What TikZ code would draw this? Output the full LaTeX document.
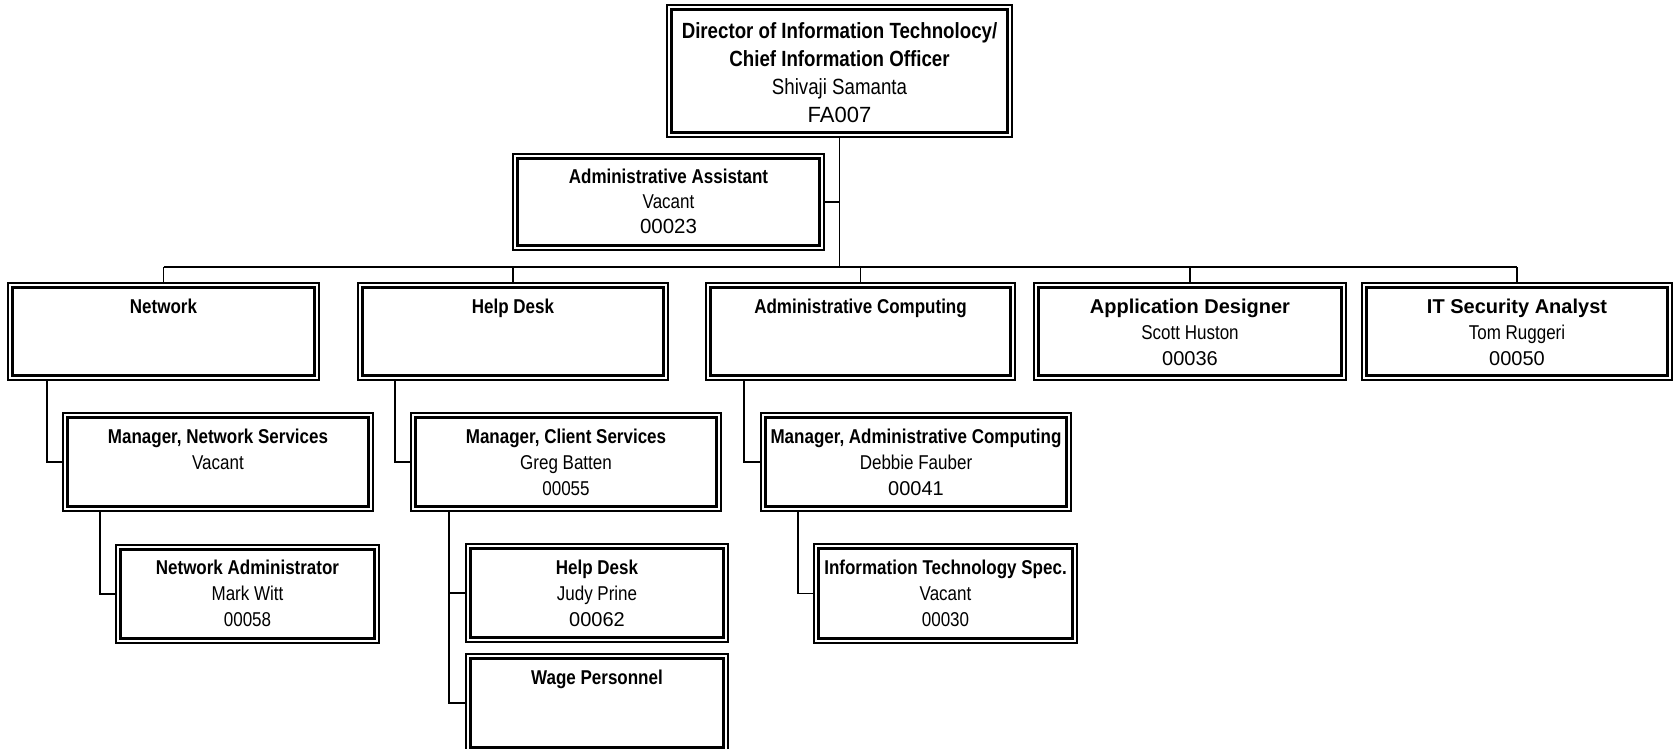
\documentclass[tikz,border=0pt]{standalone}
\usepackage{fontspec}
\setmainfont{Liberation Sans}
\newfontfamily\NarFam[FakeStretch=0.85]{Liberation Sans}
\newcommand\NarB{\NarFam\bfseries}
\newcommand\NarR{\NarFam\mdseries}
\newcommand\Wide{\normalfont}
\newcommand\WideB{\normalfont\bfseries}
\newcommand\bt[5][26pt]{\parbox[c][#3][t]{#2}{\centering\fontsize{20}{#1}\selectfont\rule{0pt}{#4}#5}}
\tikzset{
  orgbox/.style={draw, line width=1.2pt, inner sep=0pt, outer sep=0pt, anchor=north west},
  conn/.style={line width=1.3pt},
}
\begin{document}
\begin{tikzpicture}[x=1pt,y=-1pt]
\useasboundingbox (0,0) rectangle (1675,749);
% boxes
\node[orgbox] (top) at (667,5) {\parbox[c][132pt][t]{345pt}{\centering\fontsize{22}{28}\selectfont\rule{0pt}{34pt}\NarB Director of Information Technolocy/\\ \NarB Chief Information Officer\\ \NarR Shivaji Samanta\\ \Wide FA007}};
\node[orgbox] (aa) at (513,154) {\bt[25pt]{311pt}{96pt}{29pt}{\NarB Administrative Assistant\\ \NarR Vacant\\ \Wide\fontsize{20.5}{25}\selectfont 00023}};
\node[orgbox] (net) at (8,283) {\bt{311pt}{97pt}{30pt}{\NarB Network}};
\node[orgbox] (hd) at (358,283) {\bt{310pt}{97pt}{30pt}{\NarB Help Desk}};
\node[orgbox] (ac) at (706,283) {\bt{309pt}{97pt}{30pt}{\NarB Administrative Computing}};
\node[orgbox] (ad) at (1034,283) {\bt{312pt}{97pt}{30pt}{\WideB Application Designer\\ \NarR Scott Huston\\ \Wide 00036}};
\node[orgbox] (itsa) at (1362,283) {\bt{310pt}{97pt}{30pt}{\WideB IT Security Analyst\\ \NarR Tom Ruggeri\\ \Wide 00050}};
\node[orgbox] (mns) at (63,413) {\bt{310pt}{98pt}{30pt}{\NarB Manager, Network Services\\ \NarR Vacant}};
\node[orgbox] (mcs) at (411,413) {\bt{310pt}{98pt}{30pt}{\NarB Manager, Client Services\\ \NarR Greg Batten\\ \NarR 00055}};
\node[orgbox] (mac) at (761,413) {\bt{310pt}{98pt}{30pt}{\NarB Manager, Administrative Computing\\ \NarR Debbie Fauber\\ \Wide 00041}};
\node[orgbox] (nad) at (116,545) {\bt{263pt}{98pt}{29pt}{\NarB Network Administrator\\ \NarR Mark Witt\\ \NarR 00058}};
\node[orgbox] (hdj) at (466,544) {\bt{262pt}{98pt}{30pt}{\NarB Help Desk\\ \NarR Judy Prine\\ \Wide 00062}};
\node[orgbox] (wage) at (466,654) {\bt{262pt}{98pt}{30pt}{\NarB Wage Personnel}};
\node[orgbox] (itspec) at (814,544) {\bt{263pt}{99pt}{30pt}{\NarB Information Technology Spec.\\ \NarR Vacant\\ \NarR 00030}};
% inner thick borders
\foreach \n in {top,aa,net,hd,ac,ad,itsa,mns,mcs,mac,nad,hdj,wage,itspec}
  \draw[line width=3.4pt] ([shift={(4.3,4.3)}]\n.north west) rectangle ([shift={(-4.3,-4.3)}]\n.south east);
% connectors
\coordinate (bus) at (840,267);
\draw[conn] (top.south) -- (top.south |- bus);
\draw[conn] (aa.east) -- (top.south |- aa.east);
\draw[conn] (net.north |- bus) -- (itsa.north |- bus);
\foreach \n in {net,hd,ac,ad,itsa}
  \draw[conn] (\n.north |- bus) -- (\n.north);
\draw[conn] ([xshift=39pt]net.south west) |- (mns.west);
\draw[conn] ([xshift=37pt]hd.south west) |- (mcs.west);
\draw[conn] ([xshift=38pt]ac.south west) |- (mac.west);
\draw[conn] ([xshift=37pt]mns.south west) |- (nad.west);
\draw[conn] ([xshift=38pt]mcs.south west) |- (hdj.west);
\draw[conn] ([xshift=38pt]mcs.south west) |- (wage.west);
\draw[conn] ([xshift=37pt]mac.south west) |- (itspec.west);
\end{tikzpicture}
\end{document}
